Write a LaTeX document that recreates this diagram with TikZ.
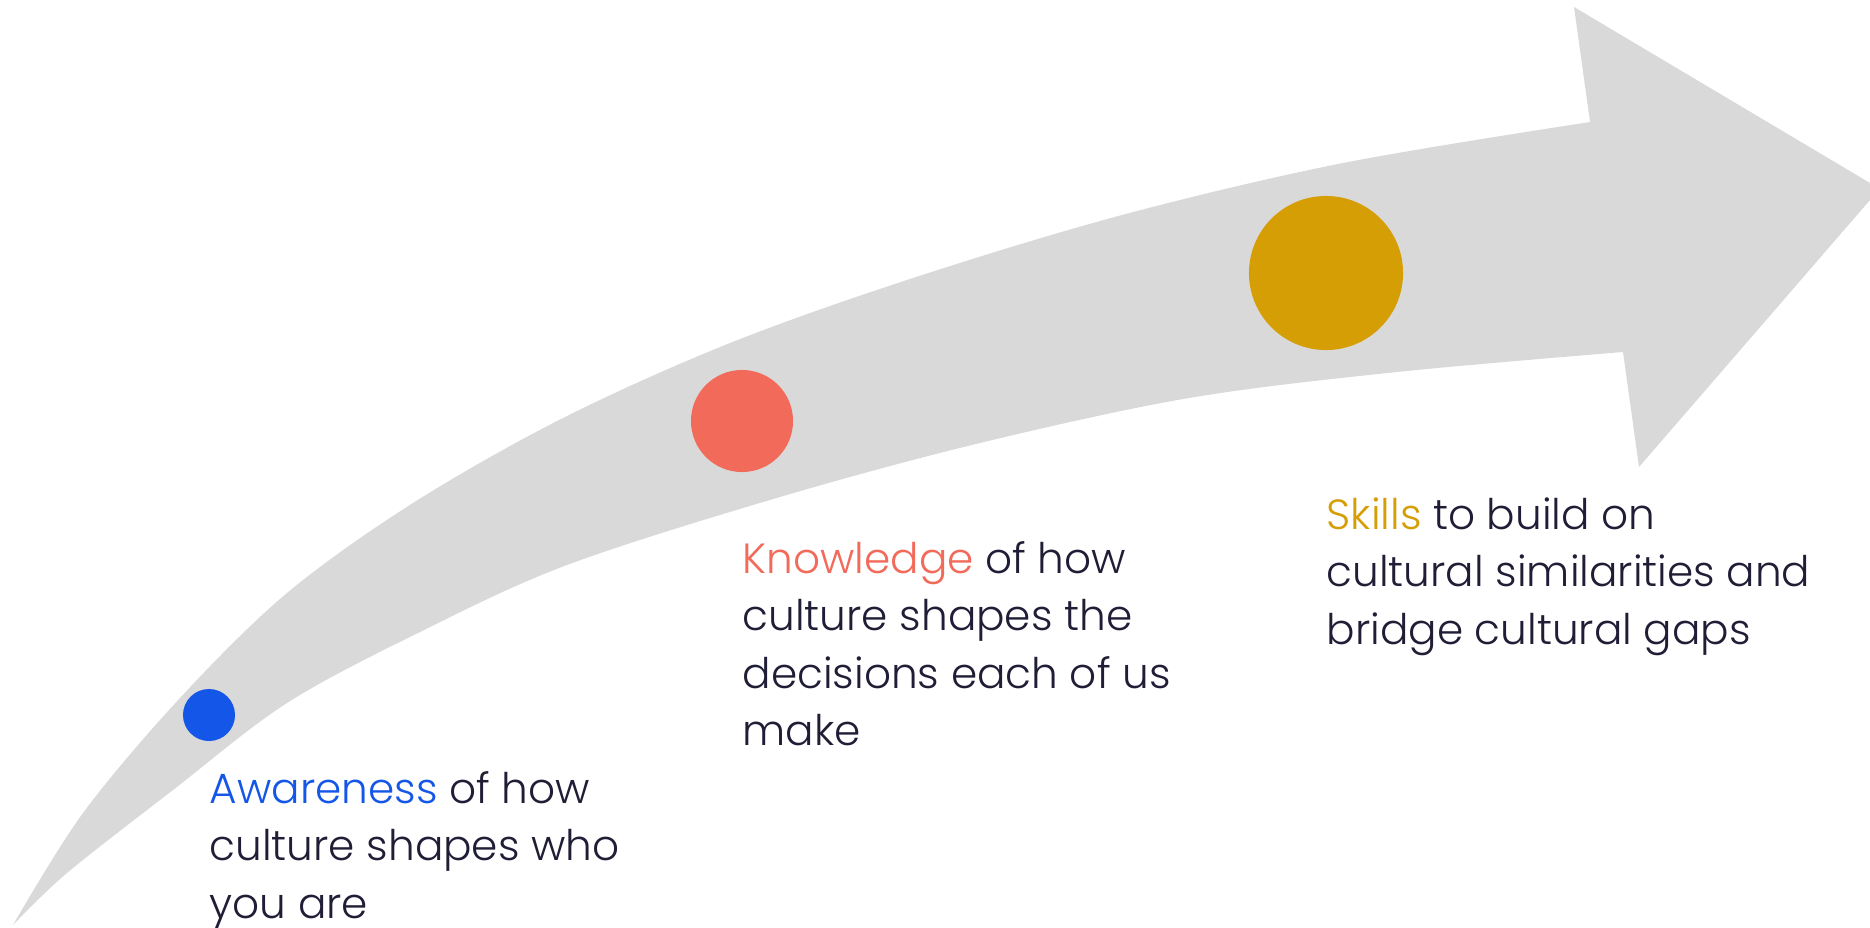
\documentclass[tikz,border=0pt]{standalone}
\usepackage{fontspec}
\setmainfont{Poppins Light}
\usepackage{tikz}
\usetikzlibrary{positioning}
\definecolor{arrowgray}{HTML}{D9D9D9}
\definecolor{awareblue}{HTML}{1456E8}
\definecolor{knowred}{HTML}{F26A5A}
\definecolor{skillgold}{HTML}{D69E05}
\definecolor{textdark}{HTML}{201E36}
\tikzstyle{dot} = [circle, inner sep=0pt, draw=none]
\tikzstyle{caption} = [inner sep=0pt, align=left, text=textdark, font=\fontsize{12}{16.3}\selectfont]

\begin{document}
\begin{tikzpicture}[x=0.01cm, y=-0.01cm]
    \useasboundingbox (0,0) rectangle (1870,927);
    % Draw the arrow
    \fill [arrowgray] plot [smooth, tension=0.55] coordinates {(13,925) (83,813) (180,698) (287,593) (413,503) (563,418) (730,343) (913,278) (1122,215) (1343,163) (1590,122)}
        -- (1574,7) -- (1870,183) -- (1870,200) -- (1639,467) -- (1623,352)
        -- plot [smooth, tension=0.55] coordinates {(1623,352) (1397,372) (1189,398) (980,443) (780,497) (567,565) (420,632) (287,703) (173,790) (67,873) (13,925)}
        -- cycle;
    % Place nodes
    \node [dot, fill=awareblue, minimum size=0.52cm] (awareDot) at (209,715) {};
    \node [dot, fill=knowred, minimum size=1.02cm] (knowDot) at (742,421) {};
    \node [dot, fill=skillgold, minimum size=1.54cm] (skillDot) at (1326,273) {};

    \node [caption, below right=0.21cm and 0cm of awareDot.south] (awareness) {\strut\textcolor{awareblue}{Awareness} of how\\ culture shapes who\\ you are};
    \node [caption, below right=0.60cm and 0cm of knowDot.south] (knowledge) {\strut\textcolor{knowred}{Knowledge} of how\\ culture shapes the\\ decisions each of us\\ make};
    \node [caption, below right=1.38cm and 0cm of skillDot.south] (skills) {\strut\textcolor{skillgold}{Skills} to build on\\ cultural similarities and\\ bridge cultural gaps};
\end{tikzpicture}
\end{document}
